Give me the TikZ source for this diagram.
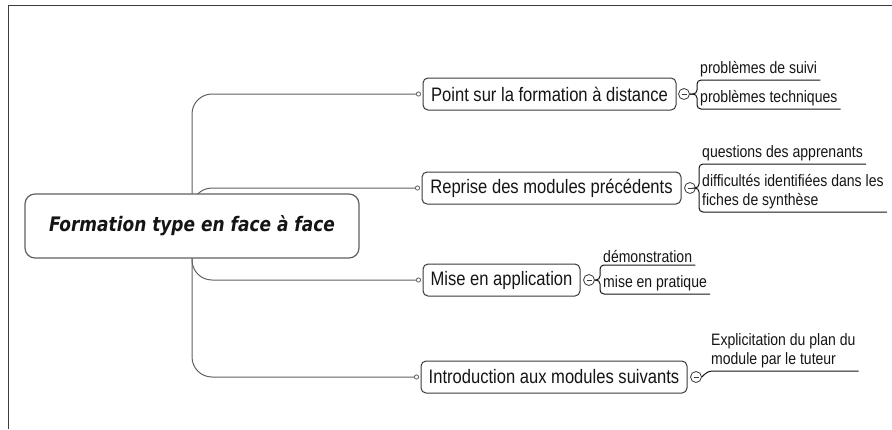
\documentclass[tikz,border=0pt]{standalone}
\usepackage{fontspec}
\setmainfont{Liberation Sans}[FakeStretch=0.85]
\newfontfamily\rootfont{DejaVu Sans}[FakeStretch=0.85]
\usepackage{tikz}
\usetikzlibrary{arrows.meta}
\definecolor{framegray}{HTML}{3C3C3C}
\definecolor{linegray}{HTML}{606060}
\definecolor{boxgray}{HTML}{3A3A3A}
\definecolor{inkblack}{HTML}{151515}
\begin{document}
\begin{tikzpicture}[x=1pt,y=1pt]
\tikzstyle{every node}+=[inner sep=0pt]
\tikzstyle{topic}=[draw=boxgray, line width=1pt, rounded corners=5pt, fill=white, minimum height=32pt, text=inkblack, font=\fontsize{19.5}{22}\selectfont]
\tikzstyle{central}=[draw=linegray, line width=1.2pt, rounded corners=10pt, fill=white, minimum width=334pt, minimum height=64pt, text=inkblack, font=\rootfont\bfseries\itshape\fontsize{20}{24}\selectfont]
\tikzstyle{leaf}=[anchor=south west, inner xsep=3pt, inner ysep=2.5pt, align=left, text=inkblack, font=\fontsize{16.5}{19}\selectfont]
\tikzstyle{collapse}=[circle, draw=boxgray, line width=0.8pt, fill=white, minimum size=11pt, path picture={\draw [boxgray, line width=0.8pt] ([xshift=-2.5pt]path picture bounding box.center) -- ([xshift=2.5pt]path picture bounding box.center);}]
\tikzstyle{branch}=[linegray, line width=1pt, rounded corners=20pt, -{Circle[open, length=5pt, width=5pt, line width=0.8pt]}, shorten >=1.5pt]
\tikzstyle{twig}=[inkblack, line width=1pt, rounded corners=4pt]
\useasboundingbox (0,0) rectangle (892,-429);
\draw [framegray, line width=1pt] (8,-429) -- (8,-5) -- (892,-5);
\node [topic, minimum width=253pt] (t1) at (549.5,-94) {Point sur la formation à distance};
\node [topic, minimum width=259pt] (t2) at (551.5,-188) {Reprise des modules précédents};
\node [topic, minimum width=157pt] (t3) at (501.5,-280) {Mise en application};
\node [topic, minimum width=266pt] (t4) at (554,-377) {Introduction aux modules suivants};
\coordinate (hub) at (192,-226);
\draw [branch] (hub) |- (t1.west);
\draw [branch] (hub) |- (t2.west);
\draw [branch] (hub) |- (t3.west);
\draw [branch] (hub) |- (t4.west);
\node [central] (root) at (hub) {Formation type en face à face};
\node [collapse] (c1) at (684,-94) {};
\node [collapse] (c2) at (690,-188) {};
\node [collapse] (c3) at (589,-280) {};
\node [collapse] (c4) at (696,-377) {};
\node [leaf] (s11) at (697,-80) {problèmes de suivi};
\node [leaf] (s12) at (697,-109) {problèmes techniques};
\node [leaf] (s21) at (699,-164) {questions des apprenants};
\node [leaf] (s22) at (699,-212) {difficultés identifiées dans les\\fiches de synthèse};
\node [leaf] (s31) at (600,-265) {démonstration};
\node [leaf] (s32) at (600,-294) {mise en pratique};
\node [leaf] (s41) at (708,-371) {Explicitation du plan du\\module par le tuteur};
\draw [twig] (c1.east) -| (s11.south west) -- (s11.south east);
\draw [twig] (c1.east) -| (s12.south west) -- (s12.south east);
\draw [twig] (c2.east) -| (s21.south west) -- (s21.south east);
\draw [twig] (c2.east) -| (s22.south west) -- (s22.south east);
\draw [twig] (c3.east) -| (s31.south west) -- (s31.south east);
\draw [twig] (c3.east) -| (s32.south west) -- (s32.south east);
\draw [twig] (c4.east) -- (s41.south west) -- (s41.south east);
\end{tikzpicture}
\end{document}
